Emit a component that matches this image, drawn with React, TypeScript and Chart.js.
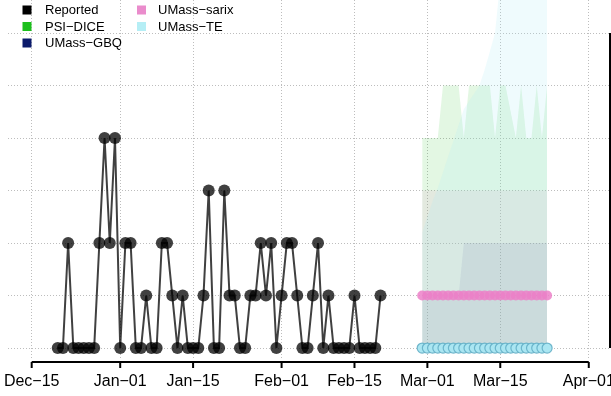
import React, { useEffect, useRef } from "react";
import { Chart, registerables } from "chart.js";
Chart.register(...registerables);

// ---------- data ----------
const ORIGIN = Date.UTC(2022, 11, 15);
const dayOf = (s: string) => {
  const [y, m, d] = s.split("-").map(Number);
  return Math.round((Date.UTC(y, m - 1, d) - ORIGIN) / 86400000);
};

const tickDates = ["2022-12-15", "2023-01-01", "2023-01-15", "2023-02-01", "2023-02-15", "2023-03-01", "2023-03-15", "2023-04-01"];
const tickLabels = ["Dec−15", "Jan−01", "Jan−15", "Feb−01", "Feb−15", "Mar−01", "Mar−15", "Apr−01"];
const yTicks = [0, 1, 2, 3, 4, 5, 6];

const reportedStart = "2022-12-20";
const reportedValues = [
  0, 0, 2, 0, 0, 0, 0, 0, 2, 4, 2, 4,
  0, 2, 2, 0, 0, 1, 0, 0, 2, 2, 1, 0, 1, 0, 0, 0, 1, 3, 0, 0, 3, 1, 1, 0, 0, 1, 1, 2, 1, 2, 0,
  1, 2, 2, 1, 0, 0, 1, 2, 0, 1, 0, 0, 0, 0, 1, 0, 0, 0, 0, 1,
];

const forecastStart = "2023-02-28";
const bandLower = [0, 0, 0, 0, 0, 0, 0, 0, 0, 0, 0, 0, 0, 0, 0, 0, 0, 0, 0, 0, 0, 0, 0, 0, 0];
const psiUpper = [4, 4, 4, 4, 5, 5, 5, 5, 4, 5, 5, 5, 5, 5, 4, 5, 5, 4.5, 4, 5, 4, 4, 5, 4, 5];
const gbqUpper = [1, 1, 1, 1, 1, 1, 1, 1, 2, 2, 2, 2, 2, 2, 2, 2, 2, 2, 2, 2, 2, 2, 2, 2, 2];
const sarixUpper = [3, 3, 3, 3, 3, 3, 3, 3, 3, 3, 3, 3, 3, 3, 3, 3, 3, 3, 3, 3, 3, 3, 3, 3, 3];
const teUpper = [2.2, 2.5, 2.8, 3.05, 3.35, 3.65, 3.95, 4.25, 4.55, 4.7, 4.85, 5.0, 5.3, 5.65, 6.0, 7.0, 7.5, 8, 8.5, 9, 9.5, 10, 10.5, 11, 11.5];
const sarixMedian = [1, 1, 1, 1, 1, 1, 1, 1, 1, 1, 1, 1, 1, 1, 1, 1, 1, 1, 1, 1, 1, 1, 1, 1, 1];
const teMedian = [0, 0, 0, 0, 0, 0, 0, 0, 0, 0, 0, 0, 0, 0, 0, 0, 0, 0, 0, 0, 0, 0, 0, 0, 0];

const legendNames = ["Reported", "PSI−DICE", "UMass−GBQ", "UMass−sarix", "UMass−TE"];
const legendColors = ["#000000", "#1cbf1c", "#0b1a6b", "#ea8ccc", "#b5eef5"];

// ---------- helpers ----------
const series = (start: string, vals: number[]) => {
  const s = dayOf(start);
  return vals.map((v, i) => ({ x: s + i, y: v }));
};

const bandPair = (upper: number[], fillColor: string, order: number) => [
  {
    data: series(forecastStart, bandLower),
    borderColor: "transparent",
    borderWidth: 0,
    pointRadius: 0,
    fill: false,
    order,
  },
  {
    data: series(forecastStart, upper),
    borderColor: "transparent",
    borderWidth: 0,
    pointRadius: 0,
    backgroundColor: fillColor,
    fill: "-1",
    order,
  },
];

const FONT = "'Liberation Sans', Arial, Helvetica, sans-serif";

const decor = {
  id: "decor",
  afterDraw(chart: any) {
    const ctx = chart.ctx as CanvasRenderingContext2D;
    const xs = chart.scales.x;
    const ys = chart.scales.y;
    const area = chart.chartArea;
    ctx.save();
    // bottom axis
    const tx = tickDates.map((d) => xs.getPixelForValue(dayOf(d)));
    const axisY = area.bottom + 4;
    ctx.strokeStyle = "#000";
    ctx.lineWidth = 2;
    ctx.beginPath();
    ctx.moveTo(tx[0], axisY);
    ctx.lineTo(tx[tx.length - 1], axisY);
    ctx.stroke();
    tx.forEach((x) => {
      ctx.beginPath();
      ctx.moveTo(x, axisY);
      ctx.lineTo(x, axisY + 6);
      ctx.stroke();
    });
    ctx.fillStyle = "#000";
    ctx.font = `16px ${FONT}`;
    ctx.textAlign = "center";
    ctx.textBaseline = "middle";
    tickLabels.forEach((t, i) => ctx.fillText(t, tx[i], axisY + 20));
    // right axis line
    const rx = area.right - 1;
    ctx.beginPath();
    ctx.moveTo(rx, ys.getPixelForValue(yTicks[yTicks.length - 1]));
    ctx.lineTo(rx, ys.getPixelForValue(yTicks[0]));
    ctx.stroke();
    // legend
    ctx.font = `13px ${FONT}`;
    ctx.textAlign = "left";
    const rows = [10, 26.5, 43];
    legendNames.forEach((name, i) => {
      const col = i < 3 ? 0 : 1;
      const row = i < 3 ? i : i - 3;
      const sx = col === 0 ? 22.5 : 137;
      const txp = col === 0 ? 45 : 158;
      const y = rows[row];
      ctx.fillStyle = legendColors[i];
      ctx.fillRect(sx, y - 4.5, 9, 9);
      ctx.fillStyle = "#000";
      ctx.fillText(name, txp, y + 0.5);
    });
    ctx.restore();
  },
};

export default function App() {
  const ref = useRef<HTMLCanvasElement>(null);
  useEffect(() => {
    const chart = new Chart(ref.current as HTMLCanvasElement, {
      type: "line",
      data: {
        datasets: [
          {
            label: "Reported",
            data: series(reportedStart, reportedValues),
            borderColor: "rgba(0,0,0,0.75)",
            borderWidth: 2,
            pointRadius: 6,
            pointBorderWidth: 0,
            pointBackgroundColor: "rgba(0,0,0,0.75)",
            pointBorderColor: "rgba(0,0,0,0)",
            fill: false,
            order: 1,
          },
          {
            label: "UMass-sarix",
            data: series(forecastStart, sarixMedian),
            showLine: false,
            pointRadius: 5,
            pointBorderWidth: 0,
            pointBackgroundColor: "rgba(236,128,200,0.85)",
            pointBorderColor: "rgba(0,0,0,0)",
            order: 2,
          },
          {
            label: "UMass-TE",
            data: series(forecastStart, teMedian),
            showLine: false,
            pointRadius: 5,
            pointBorderWidth: 1.2,
            pointBackgroundColor: "#aae6f2",
            pointBorderColor: "rgba(100,175,198,0.9)",
            order: 3,
          },
          ...bandPair(psiUpper, "rgba(28,191,28,0.12)", 20),
          ...bandPair(gbqUpper, "rgba(11,26,107,0.09)", 19),
          ...bandPair(sarixUpper, "rgba(234,140,204,0.13)", 18),
          ...bandPair(teUpper, "rgba(176,236,245,0.2)", 17),
        ] as any,
      },
      options: {
        animation: false,
        responsive: false,
        devicePixelRatio: 1,
        layout: { padding: { left: 8, right: 0, top: 0, bottom: 38 }, autoPadding: false } as any,
        plugins: { legend: { display: false }, tooltip: { enabled: false } },
        scales: {
          x: {
            type: "linear",
            min: -4.55,
            max: 111.27,
            afterBuildTicks: (s: any) => {
              s.ticks = tickDates.map((d) => ({ value: dayOf(d) }));
            },
            ticks: { display: false },
            grid: { color: "#bdbdbd", lineWidth: 1, drawTicks: false },
            border: { display: false, dash: [1, 2] },
          },
          y: {
            type: "linear",
            min: -0.19,
            max: 6.63,
            afterBuildTicks: (s: any) => {
              s.ticks = yTicks.map((v) => ({ value: v }));
            },
            ticks: { display: false },
            grid: { color: "#bdbdbd", lineWidth: 1, drawTicks: false },
            border: { display: false, dash: [1, 2] },
          },
        },
      } as any,
      plugins: [decor],
    });
    return () => chart.destroy();
  }, []);
  return (
    <div style={{ position: "absolute", left: 0, top: 0, width: 611, height: 396 }}>
      <canvas ref={ref} width={611} height={396} style={{ display: "block" }} />
    </div>
  );
}
